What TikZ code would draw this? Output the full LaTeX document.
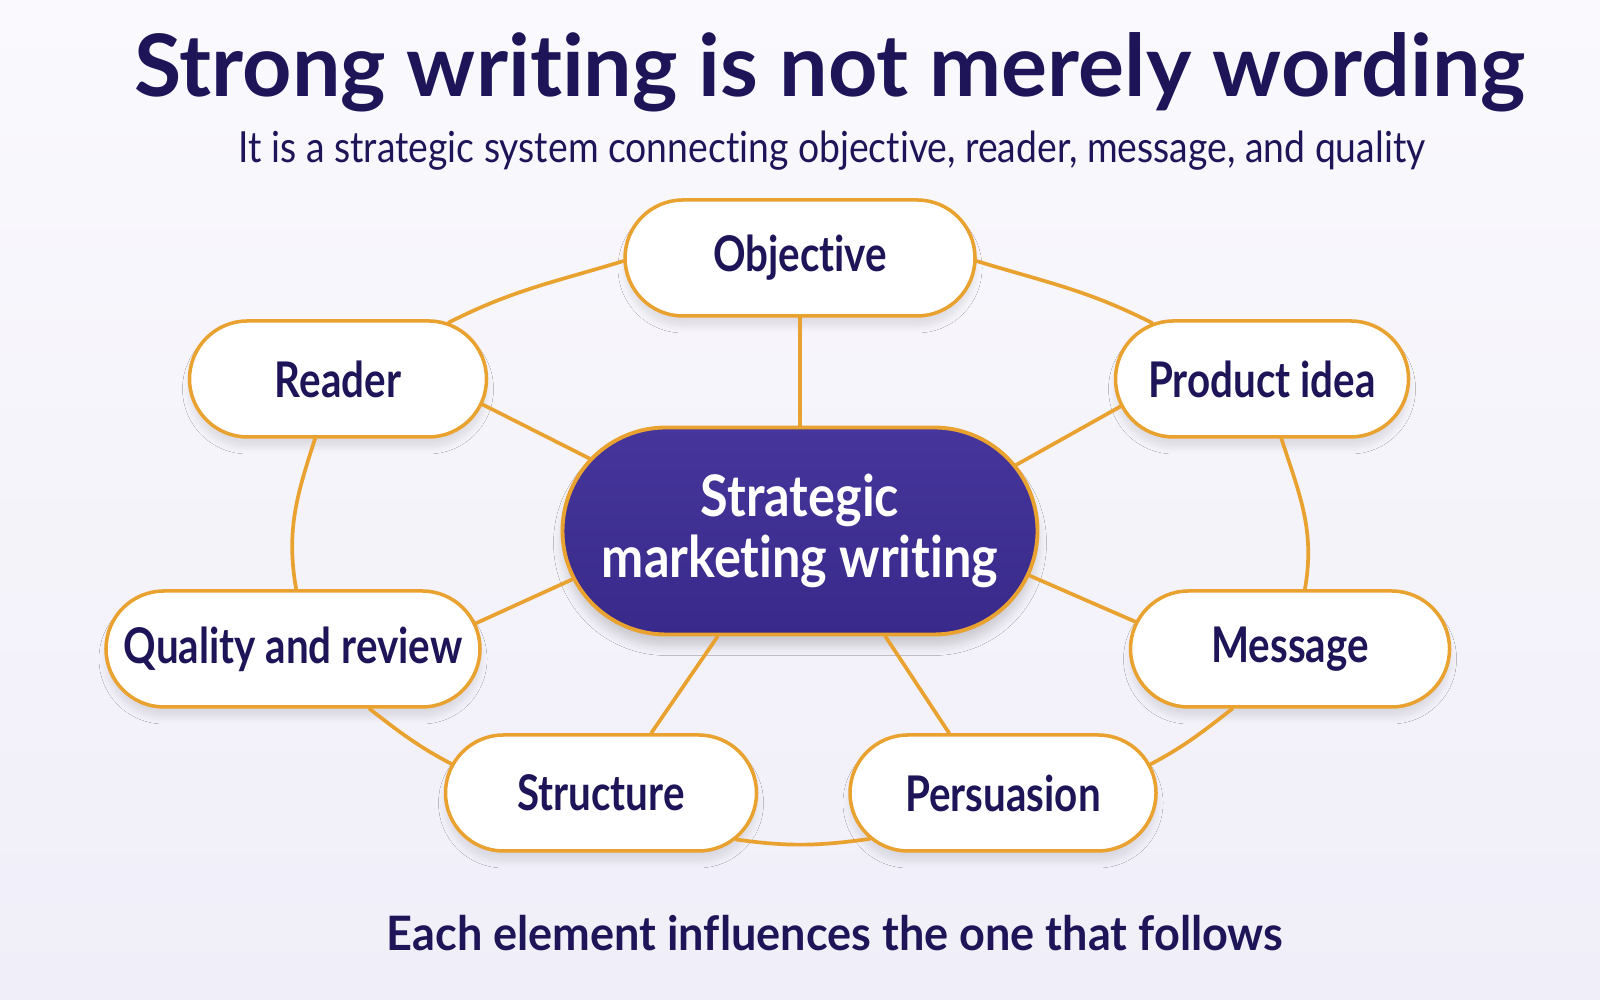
\documentclass[tikz,border=0pt]{standalone}
\usepackage{fontspec}
\setmainfont{Lato}[Ligatures=NoCommon]
\newfontfamily\subfont{Lato}[Ligatures=NoCommon, FakeStretch=0.87]
\newfontfamily\labelfont{Lato}[Ligatures=NoCommon, FakeStretch=0.82]
\newfontfamily\hubfont{Lato}[Ligatures=NoCommon, FakeStretch=0.88]
\newfontfamily\footfont{Lato}[Ligatures=NoCommon, FakeStretch=0.95]
\usetikzlibrary{positioning}
\usetikzlibrary{shapes.misc, shadows.blur}

\definecolor{navy}{HTML}{1E1559}
\definecolor{ringorange}{HTML}{E9A22F}
\definecolor{hubfill}{HTML}{38298A}
\definecolor{hublight}{HTML}{46369C}
\definecolor{bgtop}{HTML}{FAF9FD}
\definecolor{bgbot}{HTML}{F0EEF8}

\begin{document}
\begin{tikzpicture}[line cap=round,line join=round,
  pill/.style={rounded rectangle, draw=ringorange, line width=1pt, fill=white,
    minimum height=1.16cm, inner sep=0pt, text=navy,
    font=\labelfont\fontsize{14}{16}\selectfont\bfseries,
    blur shadow={shadow blur steps=6, shadow blur radius=0.7mm, shadow xshift=0pt,
      shadow yshift=-1mm, shadow opacity=10}},
  hub/.style={rounded rectangle, draw=ringorange, line width=1.1pt,
    top color=hublight, bottom color=hubfill,
    minimum width=4.75cm, minimum height=2.07cm, inner sep=0pt, text=white, align=center,
    font=\hubfont\fontsize{16.3}{17.6}\selectfont\bfseries,
    blur shadow={shadow blur steps=6, shadow blur radius=0.9mm, shadow xshift=0pt,
      shadow yshift=-1.2mm, shadow opacity=16}},
  link/.style={draw=ringorange, line width=1.05pt}]

% Background
\useasboundingbox (0,0) rectangle (16,10);
\shade[top color=bgtop, bottom color=bgbot] (0,0) rectangle (16,10);

% Titles
\node[anchor=base, text=navy, font=\fontsize{24.5}{28}\selectfont\bfseries] (title) at (8.30,9.03)
  {Strong writing is not merely wording};
\node[anchor=base, text=navy, font=\subfont\fontsize{12.2}{15}\selectfont] (subtitle) at (8.32,8.37)
  {It is a strategic system connecting objective, reader, message, and quality};
\node[anchor=base, text=navy, font=\footfont\fontsize{13.5}{16}\selectfont\bfseries] (footer) at (8.35,0.49)
  {Each element influences the one that follows};

% Hub
\node[hub] (ctr) at (8.00,4.69) {Strategic\\marketing writing};

% Outer nodes
\foreach \name/\x/\y/\w/\txt in {
  obj/8.00/7.42/3.50/Objective,
  rdr/3.38/6.21/2.97/Reader,
  prd/12.62/6.21/2.93/Product idea,
  qua/2.93/3.51/3.74/Quality and review,
  msg/12.90/3.51/3.19/Message,
  str/6.01/2.07/3.11/Structure,
  per/10.03/2.07/3.06/Persuasion
} {
  \node[pill, minimum width=\w cm] (\name) at (\x,\y) {\txt};
}

% Spokes from the hub
\draw[link] (ctr.north) -- (obj.south);
\foreach \n/\a/\b in {rdr/161/-10, prd/17/191, qua/192/8, msg/-11/170, str/232/50, per/309/132} {
  \draw[link] (ctr.\a) -- (\n.\b);
}

% Outer ring
\draw[link] (obj.181) to[out=197, in=27] (rdr.27);
\draw[link] (rdr.249) to[out=252, in=100] (qua.87);
\draw[link] (qua.-38) to[out=-38, in=152] (str.169);
\draw[link] (str.-19) to[out=-8, in=188] (per.199);
\draw[link] (per.11) to[out=28, in=218] (msg.226);
\draw[link] (msg.76) to[out=80, in=-72] (prd.288);
\draw[link] (prd.153) to[out=153, in=-17] (obj.-1);

\end{tikzpicture}
\end{document}
